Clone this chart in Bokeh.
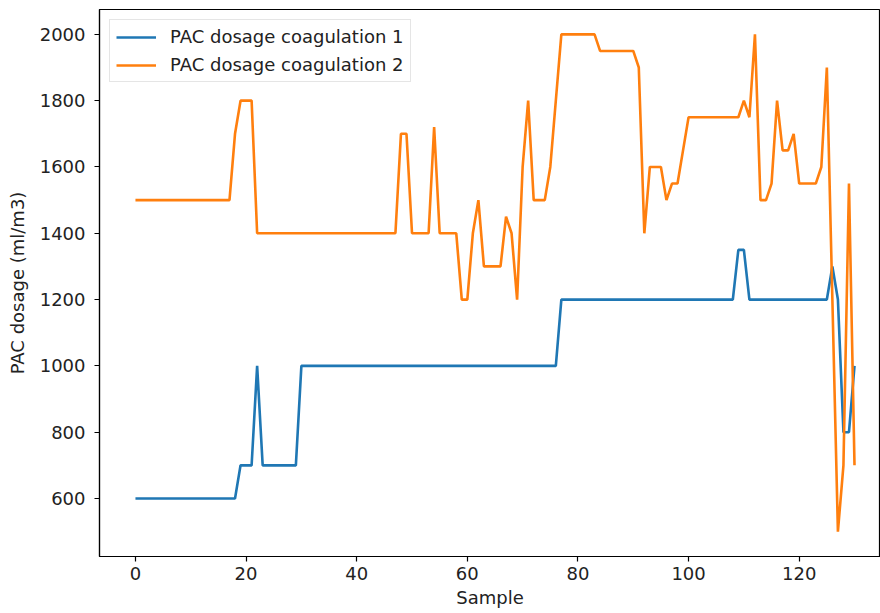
from bokeh.plotting import figure
from bokeh.models import Range1d, FixedTicker, Legend, LegendItem, ColumnDataSource
from bokeh.embed import file_html
from bokeh.resources import INLINE

sample = list(range(131))

coag1 = [
    600, 600, 600, 600, 600, 600, 600, 600, 600, 600,
    600, 600, 600, 600, 600, 600, 600, 600, 600, 700,
    700, 700, 1000, 700, 700, 700, 700, 700, 700, 700,
    1000, 1000, 1000, 1000, 1000, 1000, 1000, 1000, 1000, 1000,
    1000, 1000, 1000, 1000, 1000, 1000, 1000, 1000, 1000, 1000,
    1000, 1000, 1000, 1000, 1000, 1000, 1000, 1000, 1000, 1000,
    1000, 1000, 1000, 1000, 1000, 1000, 1000, 1000, 1000, 1000,
    1000, 1000, 1000, 1000, 1000, 1000, 1000, 1200, 1200, 1200,
    1200, 1200, 1200, 1200, 1200, 1200, 1200, 1200, 1200, 1200,
    1200, 1200, 1200, 1200, 1200, 1200, 1200, 1200, 1200, 1200,
    1200, 1200, 1200, 1200, 1200, 1200, 1200, 1200, 1200, 1350,
    1350, 1200, 1200, 1200, 1200, 1200, 1200, 1200, 1200, 1200,
    1200, 1200, 1200, 1200, 1200, 1200, 1300, 1200, 800, 800,
    1000,
]

coag2 = [
    1500, 1500, 1500, 1500, 1500, 1500, 1500, 1500, 1500, 1500,
    1500, 1500, 1500, 1500, 1500, 1500, 1500, 1500, 1700, 1800,
    1800, 1800, 1400, 1400, 1400, 1400, 1400, 1400, 1400, 1400,
    1400, 1400, 1400, 1400, 1400, 1400, 1400, 1400, 1400, 1400,
    1400, 1400, 1400, 1400, 1400, 1400, 1400, 1400, 1700, 1700,
    1400, 1400, 1400, 1400, 1720, 1400, 1400, 1400, 1400, 1200,
    1200, 1400, 1500, 1300, 1300, 1300, 1300, 1450, 1400, 1200,
    1600, 1800, 1500, 1500, 1500, 1600, 1800, 2000, 2000, 2000,
    2000, 2000, 2000, 2000, 1950, 1950, 1950, 1950, 1950, 1950,
    1950, 1900, 1400, 1600, 1600, 1600, 1500, 1550, 1550, 1650,
    1750, 1750, 1750, 1750, 1750, 1750, 1750, 1750, 1750, 1750,
    1800, 1750, 2000, 1500, 1500, 1550, 1800, 1650, 1650, 1700,
    1550, 1550, 1550, 1550, 1600, 1900, 1200, 500, 700, 1550,
    700,
]

x_ticks = [0, 20, 40, 60, 80, 100, 120]
y_ticks = [600, 800, 1000, 1200, 1400, 1600, 1800, 2000]
series_names = ["PAC dosage coagulation 1", "PAC dosage coagulation 2"]
colors = ["#1f77b4", "#ff7f0e"]

src = ColumnDataSource(dict(x=sample, c1=coag1, c2=coag2))

FONT = "DejaVu Sans"
FS = "18px"

p = figure(
    output_backend="svg",
    toolbar_location=None,
    frame_width=781,
    frame_height=547,
    min_border_left=99,
    min_border_right=0,
    min_border_top=9,
    min_border_bottom=57,
    x_range=Range1d(-6.5, 134.7),
    y_range=Range1d(425, 2075),
)
p.background_fill_color = "white"
p.border_fill_color = "white"
p.grid.visible = False
p.outline_line_color = "black"
p.outline_line_width = 1.2

r1 = p.line("x", "c1", source=src, line_color=colors[0], line_width=2.6)
r2 = p.line("x", "c2", source=src, line_color=colors[1], line_width=2.6)

for ax in (p.xaxis[0], p.yaxis[0]):
    ax.major_tick_in = 0
    ax.major_tick_out = 5
    ax.minor_tick_in = 0
    ax.minor_tick_out = 0
    ax.major_tick_line_color = "black"
    ax.major_tick_line_width = 1.2
    ax.axis_line_color = "black"
    ax.axis_line_width = 1.2
    ax.major_label_text_font = FONT
    ax.major_label_text_font_size = FS
    ax.major_label_text_color = "#222222"
    ax.axis_label_text_font = FONT
    ax.axis_label_text_font_size = FS
    ax.axis_label_text_font_style = "normal"
    ax.axis_label_text_color = "#222222"

p.xaxis[0].ticker = FixedTicker(ticks=x_ticks)
p.yaxis[0].ticker = FixedTicker(ticks=y_ticks)
p.xaxis[0].axis_label = "Sample"
p.yaxis[0].axis_label = "PAC dosage (ml/m3)"
p.xaxis[0].major_label_standoff = 5
p.xaxis[0].axis_label_standoff = 4
p.yaxis[0].major_label_standoff = 9
p.yaxis[0].axis_label_standoff = 9

legend = Legend(
    items=[LegendItem(label=series_names[0], renderers=[r1]),
           LegendItem(label=series_names[1], renderers=[r2])],
    location="top_left",
    margin=10,
    padding=6,
    spacing=7,
    glyph_width=40,
    glyph_height=20,
    label_height=20,
    label_standoff=14,
    label_text_font=FONT,
    label_text_font_size=FS,
    label_text_color="#222222",
    border_line_color="#cccccc",
    border_line_width=1,
    background_fill_color="white",
    background_fill_alpha=0.8,
)
p.add_layout(legend, "center")

open("out.html", "w").write(file_html(p, INLINE))
